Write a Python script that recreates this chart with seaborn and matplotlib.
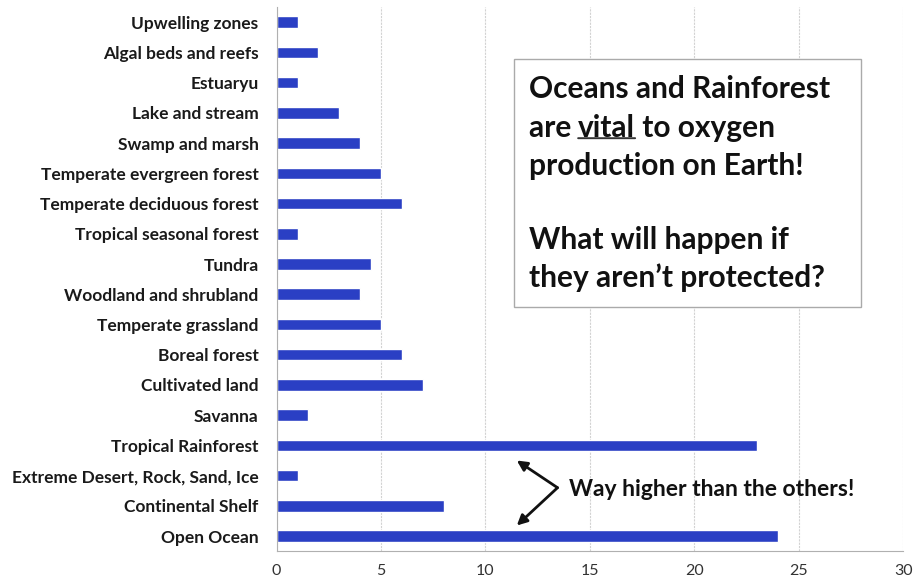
import numpy as np
import pandas as pd
import matplotlib
matplotlib.use("Agg")
import matplotlib.pyplot as plt
import seaborn as sns

# Ecosystem list, top to bottom as shown in the chart
ecosystems = [
    "Upwelling zones", "Algal beds and reefs", "Estuaryu", "Lake and stream",
    "Swamp and marsh", "Temperate evergreen forest", "Temperate deciduous forest",
    "Tropical seasonal forest", "Tundra", "Woodland and shrubland",
    "Temperate grassland", "Boreal forest", "Cultivated land", "Savanna",
    "Tropical Rainforest", "Extreme Desert, Rock, Sand, Ice",
    "Continental Shelf", "Open Ocean",
]
oxygen = [1, 2, 1, 3, 4, 5, 6, 1, 4.5, 4, 5, 6, 7, 1.5, 23, 1, 8, 24]
x_ticks = [0, 5, 10, 15, 20, 25, 30]

BAR_COLOR = "#2a3fc4"
FONT = "Lato"


def main():
    sns.set_style("white")
    plt.rcParams["font.family"] = [FONT, "DejaVu Sans"]

    df = pd.DataFrame({"ecosystem": ecosystems, "oxygen": oxygen})

    fig = plt.figure(figsize=(9.16, 5.87), dpi=100)
    ax = fig.add_axes([0.302, 0.061, 0.684, 0.927])

    sns.barplot(data=df, x="oxygen", y="ecosystem", orient="h",
                color=BAR_COLOR, width=0.38, saturation=1, ax=ax)

    ax.set_xlim(0, 30)
    ax.set_ylim(len(ecosystems) - 0.5, -0.5)
    ax.set_xticks(x_ticks)
    ax.set_xticklabels([str(t) for t in x_ticks], fontsize=11.5, color="#333333")
    ax.tick_params(axis="x", length=4, color="#cccccc", pad=5)
    ax.tick_params(axis="y", which="major", length=0, pad=13, labelsize=12.5)
    for lbl in ax.get_yticklabels():
        lbl.set_fontweight("bold")
        lbl.set_color("#1a1a1a")
    # Excel-style small tick marks between the categories
    ax.set_yticks(np.arange(-0.5, len(ecosystems), 1), minor=True)
    ax.tick_params(axis="y", which="minor", length=5, color="#aaaaaa", width=0.8)
    ax.set_xlabel("")
    ax.set_ylabel("")

    ax.grid(axis="x", color="#d2d2d2", linewidth=0.8, linestyle=(0, (2, 1)))
    ax.set_axisbelow(True)
    for side in ["top", "right"]:
        ax.spines[side].set_visible(False)
    ax.spines["left"].set_color("#b0b0b0")
    ax.spines["bottom"].set_color("#b0b0b0")

    # Call-out box
    box = plt.Rectangle((0.379, 0.448), 0.553, 0.456, transform=ax.transAxes,
                        facecolor="white", edgecolor="#aaaaaa", linewidth=1,
                        zorder=5)
    ax.add_patch(box)
    fs = 21.5
    tkw = dict(fontsize=fs, fontweight="bold", color="#111111", zorder=6,
               transform=ax.transAxes, va="baseline", ha="left")
    x0 = 0.402
    ax.text(x0, 0.832, "Oceans and Rainforest", **tkw)
    t_are = ax.text(x0, 0.762, "are ", **tkw)
    akw = dict(fontsize=fs, fontweight="bold", color="#111111", zorder=6,
               va="bottom", ha="left")
    t_vital = ax.annotate("vital", xy=(1, 0), xycoords=t_are, **akw)
    ax.annotate(" to oxygen", xy=(1, 0), xycoords=t_vital, **akw)
    ax.annotate("", xy=(1, 0.12), xycoords=t_vital,
                xytext=(0, 0.12), textcoords=t_vital, zorder=6,
                arrowprops=dict(arrowstyle="-", lw=1.4, color="#333333",
                                shrinkA=0, shrinkB=0))
    ax.text(x0, 0.692, "production on Earth!", **tkw)
    ax.text(x0, 0.555, "What will happen if", **tkw)
    ax.text(x0, 0.485, "they aren\u2019t protected?", **tkw)

    # Bracket arrows pointing at the two big bars
    vertex = (13.45, 15.4)
    for tip in [(11.5, 14.5), (11.5, 16.65)]:
        ax.annotate("", xy=tip, xytext=vertex,
                    arrowprops=dict(arrowstyle="-|>,head_length=0.6,head_width=0.3",
                                    lw=2, color="#111111",
                                    shrinkA=0, shrinkB=0))
    ax.text(14.0, 15.45, "Way higher than the others!", fontsize=16.5,
            fontweight="bold", color="#111111", va="center", ha="left")

    fig.savefig("out.png", dpi=100)
    plt.close(fig)


if __name__ == "__main__":
    main()
